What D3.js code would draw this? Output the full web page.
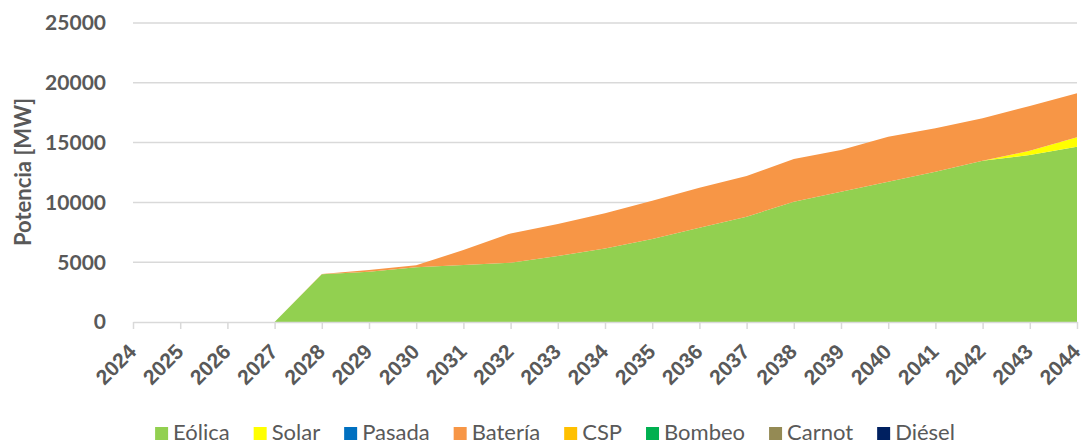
<!DOCTYPE html>
<html>
<head>
<meta charset="utf-8">
<script src="https://cdn.jsdelivr.net/npm/d3@7"></script>
<style>
  body { margin: 0; background: #fff; }
  svg { font-family: "Lato", "Open Sans", sans-serif; }
</style>
</head>
<body>
<div id="chart"></div>
<script>
const years = d3.range(2024, 2045).map(String);
const seriesNames = ["Eólica", "Solar", "Pasada", "Batería", "CSP", "Bombeo", "Carnot", "Diésel"];
const seriesColors = ["#92D050", "#FFFF00", "#0070C0", "#F79646", "#FFC000", "#00B050", "#948A54", "#002060"];

// values per year, 2024..2044 (MW)
const eolica  = [0, 0, 0, 0, 3990, 4200, 4570, 4770, 4960, 5520, 6140, 6940, 7880, 8800, 10060, 10900, 11730, 12570, 13490, 13960, 14660];
const solar   = [0, 0, 0, 0, 0, 0, 0, 0, 0, 0, 0, 0, 0, 0, 0, 0, 0, 0, 0, 360, 780];
const pasada  = new Array(21).fill(0);
const bateria = [0, 0, 0, 0, 30, 150, 170, 1250, 2450, 2670, 2950, 3200, 3350, 3400, 3570, 3480, 3760, 3620, 3540, 3740, 3680];
const csp     = new Array(21).fill(0);
const bombeo  = new Array(21).fill(0);
const carnot  = new Array(21).fill(0);
const diesel  = new Array(21).fill(0);

const yTicks = [0, 5000, 10000, 15000, 20000, 25000];

const W = 1083, H = 444;
const svg = d3.select("#chart").append("svg").attr("width", W).attr("height", H);

const x = d3.scalePoint().domain(years).range([133, 1077]);
const y = d3.scaleLinear().domain([0, 25000]).range([322, 23]);

const allSeries = [eolica, solar, pasada, bateria, csp, bombeo, carnot, diesel];
const table = years.map((yr, i) => {
  const row = { year: yr };
  seriesNames.forEach((n, k) => (row[n] = allSeries[k][i]));
  return row;
});
const stacked = d3.stack().keys(seriesNames)(table);

// gridlines
svg.append("g")
  .selectAll("line")
  .data(yTicks.filter((t) => t > 0))
  .enter()
  .append("line")
  .attr("x1", x(years[0]))
  .attr("x2", x(years[years.length - 1]))
  .attr("y1", (d) => y(d))
  .attr("y2", (d) => y(d))
  .attr("stroke", "#d9d9d9")
  .attr("stroke-width", 1.5);

// areas
const area = d3.area()
  .x((d) => x(d.data.year))
  .y0((d) => y(d[0]))
  .y1((d) => y(d[1]));

svg.append("g")
  .selectAll("path")
  .data(stacked)
  .enter()
  .append("path")
  .attr("d", area)
  .attr("fill", (d, i) => seriesColors[i]);

// x axis
const xAxis = svg.append("g")
  .attr("transform", `translate(0, ${y(0)})`)
  .call(d3.axisBottom(x).tickSize(7).tickSizeOuter(0));
xAxis.select(".domain").attr("stroke", "#d9d9d9").attr("stroke-width", 1.5);
xAxis.selectAll(".tick line").attr("stroke", "#d9d9d9").attr("stroke-width", 1.5);
xAxis.selectAll(".tick text")
  .attr("fill", "#595959")
  .attr("font-size", 21)
  .attr("font-weight", "bold")
  .attr("text-anchor", "end")
  .attr("dy", null)
  .attr("y", 0)
  .attr("transform", "translate(4, 31) rotate(-45)");

// y axis labels
svg.append("g")
  .selectAll("text")
  .data(yTicks)
  .enter()
  .append("text")
  .attr("x", 106)
  .attr("y", (d) => y(d))
  .attr("dy", "0.35em")
  .attr("text-anchor", "end")
  .attr("fill", "#595959")
  .attr("font-size", 21)
  .attr("font-weight", "bold")
  .text((d) => d);

// y axis title
svg.append("text")
  .attr("transform", "translate(31, 172) rotate(-90)")
  .attr("text-anchor", "middle")
  .attr("fill", "#595959")
  .attr("font-size", 22)
  .attr("font-weight", "bold")
  .text("Potencia [MW]");

// legend
const legend = svg.append("g");
const gap = 24;
let lx = 0;
seriesNames.forEach((n, i) => {
  const g = legend.append("g").attr("transform", `translate(${lx}, 0)`);
  g.append("rect").attr("x", 0).attr("y", -13).attr("width", 13).attr("height", 13).attr("fill", seriesColors[i]);
  const t = g.append("text")
    .attr("x", 18)
    .attr("y", 0)
    .attr("fill", "#595959")
    .attr("font-size", 22)
    .text(n);
  lx += 18 + t.node().getComputedTextLength() + gap;
});
const legendW = lx - gap;
legend.attr("transform", `translate(${555 - legendW / 2}, 440)`);
</script>
</body>
</html>
